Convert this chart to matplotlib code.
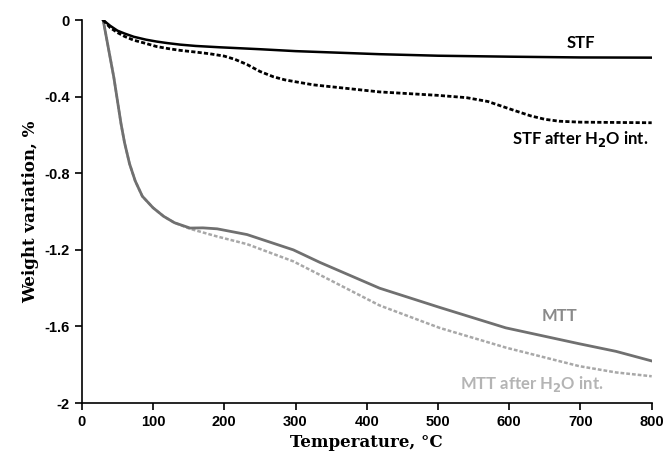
import matplotlib
matplotlib.use("Agg")
import matplotlib.pyplot as plt

# weight variation (%) vs temperature (C)
stf_t = [30, 40, 50, 60, 73, 90, 105, 120, 138, 160, 194, 250, 300, 418, 500, 600, 700, 800]
stf_w = [0, -0.03, -0.055, -0.07, -0.087, -0.102, -0.112, -0.12, -0.128, -0.135, -0.142,
         -0.152, -0.162, -0.178, -0.186, -0.191, -0.195, -0.196]

stf_h2o_t = [30, 40, 50, 60, 73, 90, 105, 120, 138, 160, 180, 200, 215, 232, 250, 269,
             285, 300, 325, 418, 500, 540, 570, 604, 630, 650, 670, 700, 800]
stf_h2o_w = [0, -0.04, -0.065, -0.085, -0.105, -0.122, -0.138, -0.148, -0.158, -0.167,
             -0.176, -0.188, -0.205, -0.232, -0.268, -0.296, -0.312, -0.322, -0.338,
             -0.375, -0.393, -0.405, -0.425, -0.468, -0.5, -0.518, -0.528, -0.533, -0.536]

mtt_t = [30, 35, 40, 45, 50, 55, 60, 67, 75, 85, 100, 115, 130, 152, 170, 190, 232,
         297, 334, 418, 502, 595, 698, 750, 800]
mtt_w = [0, -0.1, -0.2, -0.3, -0.42, -0.54, -0.64, -0.75, -0.84, -0.92, -0.98, -1.025,
         -1.058, -1.086, -1.085, -1.09, -1.12, -1.20, -1.265, -1.40, -1.50, -1.607, -1.69,
         -1.73, -1.78]

mtt_h2o_t = [30, 35, 40, 45, 50, 55, 60, 67, 75, 85, 100, 115, 130, 152, 190, 232,
             297, 334, 418, 502, 595, 698, 750, 800]
mtt_h2o_w = [0, -0.1, -0.2, -0.3, -0.42, -0.54, -0.64, -0.75, -0.84, -0.92, -0.98, -1.025,
             -1.058, -1.09, -1.13, -1.17, -1.26, -1.33, -1.49, -1.607, -1.71, -1.807,
             -1.84, -1.86]

fig = plt.figure(figsize=(6.65, 4.57), dpi=100)
ax = fig.add_axes([0.123, 0.118, 0.857, 0.838])

ax.plot(mtt_h2o_t, mtt_h2o_w, color="#a8a8a8", lw=1.8, ls=(0, (1.5, 0.8)))
ax.plot(mtt_t, mtt_w, color="#707070", lw=2.0)
ax.plot(stf_h2o_t, stf_h2o_w, color="black", lw=2.0, ls=(0, (1.5, 0.8)))
ax.plot(stf_t, stf_w, color="black", lw=1.8)

lab = dict(family="Lato", weight="bold", fontsize=12, ha="center", va="center")
ax.text(700, -0.118, "STF", color="black", **lab)
ax.text(700, -0.62, r"STF after H$_\mathbf{2}$O int.", color="black", **lab)
ax.text(670, -1.545, "MTT", color="#8a8a8a", **lab)
ax.text(632, -1.90, r"MTT after H$_\mathbf{2}$O int.", color="#b4b4b4", **lab)

ax.set_xlim(0, 800)
ax.set_ylim(-2, 0)
ax.set_xticks(range(0, 801, 100))
ax.set_yticks([-2, -1.6, -1.2, -0.8, -0.4, 0])
ax.set_yticklabels(["-2", "-1.6", "-1.2", "-0.8", "-0.4", "0"])
for s in ["top", "right"]:
    ax.spines[s].set_visible(False)
for s in ["left", "bottom"]:
    ax.spines[s].set_linewidth(1.2)
ax.tick_params(direction="out", length=5, width=1.2, labelsize=10.5)
for t in ax.get_xticklabels() + ax.get_yticklabels():
    t.set_fontweight("bold")
    t.set_family("Liberation Sans")

ax.set_xlabel("Temperature, °C", family="DejaVu Serif", weight="bold", fontsize=12)
ax.set_ylabel("Weight variation, %", family="DejaVu Serif", weight="bold", fontsize=12)

fig.savefig("out.png", dpi=100)
